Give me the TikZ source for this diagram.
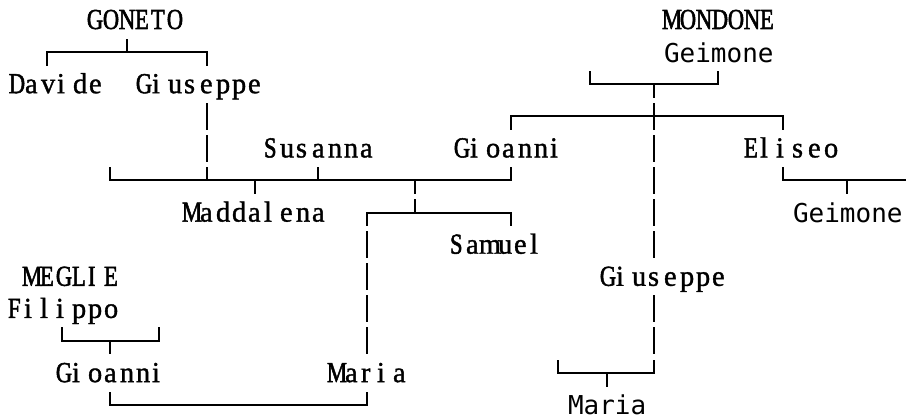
\documentclass[tikz,border=0pt]{standalone}
\usepackage{fontspec}
\setmainfont{Liberation Serif}[FakeStretch=0.98,FakeBold=1.2]
\newfontfamily\capfont{Liberation Serif}[FakeStretch=0.78,FakeBold=1.8]
\newfontfamily\sansmono{DejaVu Sans Mono}
\ExplSyntaxOn
\NewDocumentCommand\cells{m}{
  \tl_map_inline:nn{#1}{
    \tl_if_in:nnTF {ABCDEFGHIJKLMNOPQRSTUVWXYZ} {##1}
      { \hbox_set:Nn \l_tmpa_box {\capfont ##1} }
      { \hbox_set:Nn \l_tmpa_box {##1} }
    \dim_compare:nNnTF {\box_wd:N \l_tmpa_box} > {16pt}
      { \hbox_to_wd:nn {16pt} { \hss \box_use:N \l_tmpa_box \hss } }
      { \hbox_to_wd:nn {16pt} { \box_use:N \l_tmpa_box \hss } }
  }
}
\ExplSyntaxOff
\newcommand\RY[1]{20+32.1*#1}
\newcommand\Hseg[3]{\draw (#1,{\RY{#3}}) -- (#2,{\RY{#3}});}
\newcommand\Vfull[2]{\draw (#1,{\RY{#2}-12.5}) -- (#1,{\RY{#2}+12.5});}
\newcommand\Vup[2]{\draw (#1,{\RY{#2}-12.5}) -- (#1,{\RY{#2}});}
\newcommand\Vdown[2]{\draw (#1,{\RY{#2}}) -- (#1,{\RY{#2}+12.5});}
\begin{document}
\begin{tikzpicture}[x=1pt,y=-1pt,line width=2pt,line cap=rect,
  namebox/.style={anchor=base west,inner sep=0pt,font=\fontsize{29}{34}\selectfont},
  monobox/.style={anchor=base west,inner sep=0pt,font=\sansmono\fontsize{26}{32}\selectfont}]
\useasboundingbox (0,0) rectangle (906,419);
% names
\node[namebox] (goneto) at (86,{\RY{0}+9}) {\cells{GONETO}};
\node[namebox] (mondone) at (663,{\RY{0}+9}) {\cells{MONDONE}};
\node[monobox] (geimoneA) at (663,{\RY{1}+10}) {Geimone};
\node[namebox] (davide) at (8,{\RY{2}+9}) {\cells{Davide}};
\node[namebox] (giuseppeA) at (135,{\RY{2}+9}) {\cells{Giuseppe}};
\node[namebox] (susanna) at (263,{\RY{4}+9}) {\cells{Susanna}};
\node[namebox] (gioanniA) at (453,{\RY{4}+9}) {\cells{Gioanni}};
\node[namebox] (eliseo) at (743,{\RY{4}+9}) {\cells{Eliseo}};
\node[namebox] (maddalena) at (183,{\RY{6}+9}) {\cells{Maddalena}};
\node[monobox] (geimoneB) at (792,{\RY{6}+10}) {Geimone};
\node[namebox] (samuel) at (449,{\RY{7}+9}) {\cells{Samuel}};
\node[namebox] (meglie) at (23,{\RY{8}+9}) {\cells{MEGLIE}};
\node[namebox] (giuseppeB) at (599,{\RY{8}+9}) {\cells{Giuseppe}};
\node[namebox] (filippo) at (7,{\RY{9}+9}) {\cells{Filippo}};
\node[namebox] (gioanniB) at (55,{\RY{11}+9}) {\cells{Gioanni}};
\node[namebox] (mariaA) at (328,{\RY{11}+9}) {\cells{Maria}};
\node[monobox] (mariaB) at (567,{\RY{12}+9}) {Maria};
% GONETO family
\Hseg{47}{207}{1} \Vup{127}{1} \Vdown{47}{1} \Vdown{207}{1}
\Vfull{207}{3} \Vfull{207}{4} \Vup{207}{5}
% row 5 union
\Hseg{110}{511}{5}
\Vup{110}{5} \Vup{318}{5} \Vup{511}{5}
\Vdown{255}{5} \Vdown{415}{5}
% row 6 children
\Vup{415}{6} \Hseg{367}{511}{6} \Vdown{367}{6} \Vdown{511}{6}
\Vfull{367}{7} \Vfull{367}{8} \Vfull{367}{9} \Vfull{367}{10}
% bottom union
\Hseg{110}{367}{12} \Vup{110}{12} \Vup{367}{12}
% MEGLIE
\Hseg{62}{159}{10} \Vup{62}{10} \Vup{159}{10} \Vdown{110}{10}
% MONDONE
\Hseg{590}{718}{2} \Vup{590}{2} \Vup{718}{2} \Vdown{654}{2}
\Hseg{511}{783}{3} \Vup{654}{3} \Vdown{654}{3} \Vdown{511}{3} \Vdown{783}{3}
\Vfull{654}{4} \Vfull{654}{5} \Vfull{654}{6} \Vfull{654}{7}
\Vfull{654}{9} \Vfull{654}{10} \Vup{654}{11}
\Hseg{558}{654}{11} \Vup{558}{11} \Vdown{607}{11}
% Eliseo
\Vup{783}{5} \Hseg{783}{906}{5} \Vdown{847}{5}
\end{tikzpicture}
\end{document}
